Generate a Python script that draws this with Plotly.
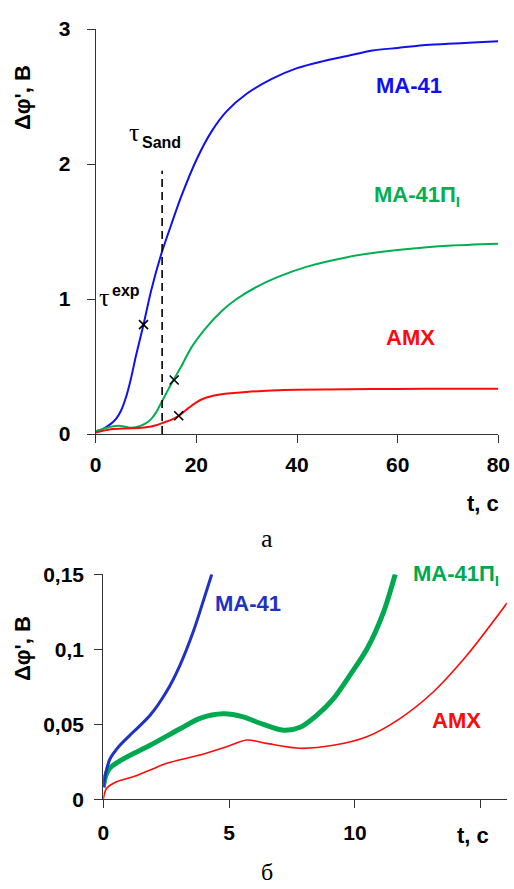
import plotly.graph_objects as go

# ---- panel (а): full transients, t in s, Δφ' in V ----
t_ma41 = [0, 1, 2, 3, 4, 5, 6, 7, 8, 9.5, 11, 13, 15, 17, 20, 23, 26, 30, 35, 40, 45, 50, 55, 60, 65,
          70, 75, 80]
v_ma41 = [0.02, 0.03, 0.05, 0.075, 0.11, 0.17, 0.27, 0.41, 0.58, 0.81, 1.06, 1.33, 1.55, 1.76, 2.03,
          2.24, 2.39, 2.52, 2.63, 2.71, 2.76, 2.80, 2.84, 2.86, 2.88, 2.89, 2.90, 2.91]

t_ma41p = [0, 2, 3.5, 5, 7, 9, 10, 11, 12, 13, 14, 15, 17, 19, 22, 25, 28, 32, 36, 42, 50, 55, 62,
           70, 80]
v_ma41p = [0.02, 0.045, 0.058, 0.06, 0.047, 0.062, 0.08, 0.11, 0.16, 0.23, 0.30, 0.37, 0.50, 0.64,
           0.79, 0.91, 1.00, 1.09, 1.16, 1.24, 1.31, 1.34, 1.37, 1.395, 1.41]

t_amx = [0, 3, 7, 10, 12, 13.5, 15, 16.5, 18, 20, 22, 25, 30, 35, 40, 50, 60, 70, 80]
v_amx = [0.01, 0.035, 0.042, 0.05, 0.065, 0.085, 0.105, 0.135, 0.18, 0.235, 0.27, 0.295, 0.312,
         0.322, 0.328, 0.332, 0.334, 0.335, 0.336]

# experimental transition times (×) and Sand time (dashed line)
tau_exp_t = [9.5, 15.6, 16.5]
tau_exp_v = [0.81, 0.40, 0.135]
tau_sand_t = [13.2, 13.2]
tau_sand_v = [0, 1.95]

# ---- panel (б): initial part, t in s, Δφ' in V ----
tb_ma41 = [0, 0.1, 0.27, 0.66, 1.2, 1.86, 2.52, 3.05, 3.58, 3.97, 4.31]
vb_ma41 = [0.008, 0.018, 0.027, 0.036, 0.045, 0.056, 0.072, 0.0895, 0.112, 0.132, 0.15]

tb_ma41p = [0, 0.1, 0.27, 0.8, 1.86, 3.05, 3.84, 4.77, 5.56, 6.23, 7.16, 7.82, 8.48, 9.14, 9.81,
            10.47, 11.14, 11.6]
vb_ma41p = [0.008, 0.016, 0.021, 0.027, 0.036, 0.047, 0.054, 0.057, 0.055, 0.0507, 0.046, 0.048,
            0.056, 0.067, 0.083, 0.10, 0.125, 0.15]

tb_amx = [0, 0.13, 0.53, 1.19, 1.86, 2.52, 3.84, 4.9, 5.7, 6.49, 7.82, 9.14, 10.47, 11.8, 13.12,
          14.45, 16.05]
vb_amx = [0, 0.0073, 0.0117, 0.015, 0.0195, 0.024, 0.0295, 0.035, 0.0395, 0.0373, 0.034, 0.036,
          0.0417, 0.054, 0.0717, 0.096, 0.131]

top_yticks = [0, 1, 2, 3]
top_xticks = [0, 20, 40, 60, 80]
bot_yticks = [0, 0.05, 0.1, 0.15]
bot_yticktext = ["0", "0,05", "0,1", "0,15"]
bot_xticks = [0, 5, 10, 15]
bot_xticktext = ["0", "5", "10", " "]

BLUE = "#1010f0"
GREEN = "#00b050"
RED = "#ff0a0a"
BLUE_B = "#1e32c4"
GREEN_B = "#00a84f"
SANS = "Arial, Liberation Sans, sans-serif"
SERIF = "Times New Roman, Liberation Serif, serif"

W, H = 514, 889


def px(x):
    return x / W


def py(y):
    return 1 - y / H


fig = go.Figure()

# panel (а)
fig.add_trace(go.Scatter(x=t_ma41, y=v_ma41, mode="lines",
                         line=dict(color=BLUE, width=2, shape="spline", smoothing=0.8),
                         xaxis="x", yaxis="y"))
fig.add_trace(go.Scatter(x=t_ma41p, y=v_ma41p, mode="lines",
                         line=dict(color=GREEN, width=2, shape="spline", smoothing=0.8),
                         xaxis="x", yaxis="y"))
fig.add_trace(go.Scatter(x=t_amx, y=v_amx, mode="lines",
                         line=dict(color=RED, width=2, shape="spline", smoothing=0.8),
                         xaxis="x", yaxis="y"))
fig.add_trace(go.Scatter(x=tau_sand_t, y=tau_sand_v, mode="lines",
                         line=dict(color="black", width=1.6, dash="8px,5px"), xaxis="x", yaxis="y"))
fig.add_trace(go.Scatter(x=tau_exp_t, y=tau_exp_v, mode="markers",
                         marker=dict(symbol="x-thin", size=9, line=dict(color="black", width=1.6)),
                         xaxis="x", yaxis="y"))

# panel (б)
fig.add_trace(go.Scatter(x=tb_amx, y=vb_amx, mode="lines",
                         line=dict(color=RED, width=1.6, shape="spline", smoothing=0.8),
                         xaxis="x2", yaxis="y2"))
fig.add_trace(go.Scatter(x=tb_ma41p, y=vb_ma41p, mode="lines",
                         line=dict(color=GREEN_B, width=5, shape="spline", smoothing=0.8),
                         xaxis="x2", yaxis="y2"))
fig.add_trace(go.Scatter(x=tb_ma41, y=vb_ma41, mode="lines",
                         line=dict(color=BLUE_B, width=3, shape="spline", smoothing=0.8),
                         xaxis="x2", yaxis="y2"))

axis_common = dict(showgrid=False, zeroline=False, showline=True, linecolor="#333", linewidth=1.2,
                   ticks="outside", ticklen=8, tickcolor="#333", tickwidth=1.2, automargin=False,
                   tickfont=dict(family=SANS, size=21, color="black", weight="bold"))

fig.update_layout(
    width=W, height=H, margin=dict(l=0, r=0, t=0, b=0, autoexpand=False),
    paper_bgcolor="white", plot_bgcolor="white", showlegend=False,
    xaxis=dict(domain=[px(95.7), px(498.3)], range=[0, 80], tickvals=top_xticks, anchor="y",
               ticklabelstandoff=4, **axis_common),
    yaxis=dict(domain=[py(434), py(29)], range=[0, 3], tickvals=top_yticks, anchor="x",
               ticklabelstandoff=12, **axis_common),
    xaxis2=dict(domain=[px(103.3), px(506.7)], range=[0, 16.03], tickvals=bot_xticks,
                ticktext=bot_xticktext, anchor="y2", ticklabelstandoff=6, **axis_common),
    yaxis2=dict(domain=[py(799.3), py(574.3)], range=[0, 0.15], tickvals=bot_yticks,
                ticktext=bot_yticktext, anchor="x2", ticklabelstandoff=6, **axis_common),
)

ann = []


def label(text, x, y, size, color="black", family=SANS, bold=True, xanchor="center", angle=0):
    ann.append(dict(text=text, x=px(x), y=py(y), xref="paper", yref="paper", showarrow=False,
                    xanchor=xanchor, yanchor="middle", textangle=angle,
                    font=dict(family=family, size=size, color=color, weight="bold" if bold else "normal")))


# panel (а) texts
label("Δφ', В", 22, 98, 22, angle=-90)
label("t, c", 501, 503, 22, xanchor="right")
label("а", 267, 538, 26, family=SERIF, bold=False)
label("МА-41", 409, 86, 22, color=BLUE)
label("МА-41П<sub>I</sub>", 372, 196, 22, color=GREEN, xanchor="left")
label("АМХ", 410, 338, 22, color=RED)
label("τ", 104, 297, 26, family=SERIF, bold=False)
label("exp", 110, 290, 16, xanchor="left")
label("τ", 134, 133, 26, family=SERIF, bold=False)
label("Sand", 140, 142, 16, xanchor="left")

# panel (б) texts
label("Δφ', В", 22, 649, 22, angle=-90)
label("t, c", 491, 835, 22, xanchor="right")
label("б", 267, 872, 24, family=SERIF, bold=False)
label("МА-41", 213, 603, 22, color=BLUE_B, xanchor="left")
label("МА-41П<sub>I</sub>", 411, 575, 22, color=GREEN_B, xanchor="left")
label("АМХ", 456, 720, 22, color=RED)

fig.update_layout(annotations=ann)
fig.write_html("out.html")
